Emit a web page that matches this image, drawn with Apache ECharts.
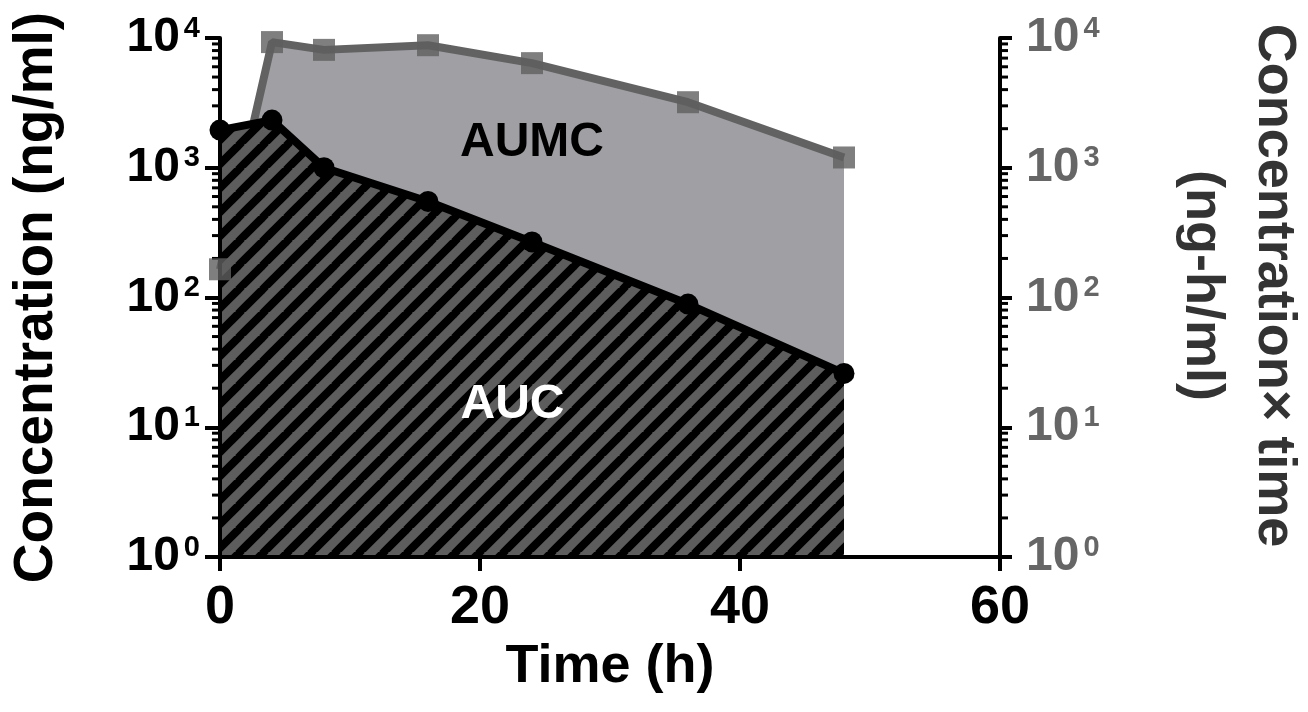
<!DOCTYPE html>
<html>
<head>
<meta charset="utf-8">
<script src="https://cdn.jsdelivr.net/npm/echarts@6/dist/echarts.min.js"></script>
<style>
html,body{margin:0;padding:0;background:#fff;}
#chart{width:1308px;height:712px;}
</style>
</head>
<body>
<div id="chart"></div>
<script>
// ---- data ----
const timePoints = [0, 4, 8, 16, 24, 36, 48];
const aucValues = [1950, 2330, 1000, 550, 268, 89, 26];      // concentration (ng/ml)
const aumcValues = [165, 9300, 8100, 8800, 6400, 3200, 1200]; // concentration x time
const xTicks = [0, 20, 40, 60];
const yMin = 1, yMax = 10000;
const minorMultipliers = [2, 3, 4, 5, 6, 7, 8, 9];
const decades = [1, 10, 100, 1000];
const annotations = [
  { text: 'AUMC', x: 24, y: 1550, color: '#000' },
  { text: 'AUC', x: 22.5, y: 14.8, color: '#fff' }
];

const FONT = '"Liberation Sans", Arial, Helvetica, sans-serif';

// hatch pattern
const tile = document.createElement('canvas');
const T = 24;
tile.width = T; tile.height = T;
const ctx = tile.getContext('2d');
ctx.fillStyle = '#5d5d5d';
ctx.fillRect(0, 0, T, T);
ctx.strokeStyle = '#000';
ctx.lineWidth = 8;
for (let c = -T; c <= T; c += T) {
  ctx.beginPath();
  ctx.moveTo(c - 2, T + 2);
  ctx.lineTo(c + T + 2, -2);
  ctx.stroke();
}

const minorTickData = [];
decades.forEach(d => minorMultipliers.forEach(m => minorTickData.push([0, d * m])));

const aucData = timePoints.map((t, i) => [t, aucValues[i]]);
const aumcData = timePoints.map((t, i) => [t, aumcValues[i]]);

function logLabel(v) {
  const e = Math.round(Math.log10(v));
  return '{b|10}{s|' + e + '}';
}
function richFor(color) {
  return {
    b: { fontSize: 48, fontWeight: 'bold', fontFamily: FONT, color: color, lineHeight: 48 },
    s: { fontSize: 29, fontWeight: 'bold', fontFamily: FONT, color: color, verticalAlign: 'top', padding: [0, 0, 0, 4], lineHeight: 48 }
  };
}

const chart = echarts.init(document.getElementById('chart'), null, { renderer: 'canvas' });

const option = {
  backgroundColor: '#fff',
  animation: false,
  grid: { left: 220, right: 308, top: 38, bottom: 155, containLabel: false, outerBoundsMode: 'none' },
  xAxis: {
    type: 'value', min: 0, max: 60, interval: 20,
    z: 4,
    axisLine: { show: true, lineStyle: { color: '#000', width: 4 } },
    axisTick: { show: true, length: 14, lineStyle: { color: '#000', width: 4 } },
    axisLabel: { fontSize: 54, fontWeight: 'bold', fontFamily: FONT, color: '#000', margin: 24 },
    splitLine: { show: false },
    name: 'Time (h)', nameLocation: 'middle', nameGap: 80,
    nameTextStyle: { fontSize: 54, fontWeight: 'bold', fontFamily: FONT, color: '#000' }
  },
  yAxis: [
    {
      type: 'log', logBase: 10, min: yMin, max: yMax,
      position: 'left', z: 4,
      axisLine: { show: true, lineStyle: { color: '#000', width: 4 } },
      axisTick: { show: true, length: 15, lineStyle: { color: '#000', width: 4 } },
      axisLabel: { formatter: logLabel, rich: richFor('#000'), margin: 20 },
      splitLine: { show: false },
      name: 'Concentration (ng/ml)', nameLocation: 'middle', nameGap: 156, nameRotate: 90,
      nameTextStyle: { fontSize: 55, fontWeight: 'bold', fontFamily: FONT, color: '#000' }
    },
    {
      type: 'log', logBase: 10, min: yMin, max: yMax,
      position: 'right', z: 4,
      axisLine: { show: true, lineStyle: { color: '#000', width: 4 } },
      axisTick: { show: true, length: 12, lineStyle: { color: '#000', width: 4 } },
      axisLabel: { formatter: logLabel, rich: richFor('#666'), margin: 26 },
      splitLine: { show: false },
      name: 'Concentration× time\n(ng-h/ml)', nameLocation: 'middle', nameGap: 166, nameRotate: -90,
      nameTextStyle: { fontSize: 54, fontWeight: 'bold', fontFamily: FONT, color: '#333', lineHeight: 72, align: 'center', padding: [0, 24, 0, 0] }
    }
  ],
  series: [
    {
      name: 'AUMC', type: 'line', data: aumcData, yAxisIndex: 1, z: 2,
      symbol: 'none',
      lineStyle: { color: '#626262', width: 8 },
      areaStyle: { color: '#a09fa4', opacity: 1, origin: 'start' }
    },
    {
      name: 'AUC', type: 'line', data: aucData, yAxisIndex: 0, z: 3,
      symbol: 'circle', symbolSize: 21,
      itemStyle: { color: '#000' },
      lineStyle: { color: '#000', width: 8 },
      areaStyle: { color: { image: tile, repeat: 'repeat' }, opacity: 1, origin: 'start' },
      markPoint: {
        symbol: 'circle', symbolSize: 0,
        data: annotations.map(a => ({
          coord: [a.x, a.y], value: a.text,
          label: { show: true, position: 'inside', formatter: a.text, fontSize: 48, fontWeight: 'bold', fontFamily: FONT, color: a.color }
        }))
      }
    },
    {
      name: 'AUMC points', type: 'scatter', data: aumcData, yAxisIndex: 1, z: 10,
      symbol: 'rect', symbolSize: 22,
      itemStyle: { color: '#5f5f5f' }
    },
    {
      name: 'minor ticks', type: 'custom', data: minorTickData, yAxisIndex: 0, z: 5,
      clip: false, silent: true,
      renderItem: function (params, api) {
        const v = api.value(1);
        const pl = api.coord([0, v]);
        const pr = api.coord([60, v]);
        return {
          type: 'group',
          children: [
            { type: 'line', shape: { x1: pl[0] - 8, y1: pl[1], x2: pl[0], y2: pl[1] }, style: { stroke: '#000', lineWidth: 3 } },
            { type: 'line', shape: { x1: pr[0], y1: pr[1], x2: pr[0] + 8, y2: pr[1] }, style: { stroke: '#000', lineWidth: 3 } }
          ]
        };
      }
    }
  ]
};
chart.setOption(option);
</script>
</body>
</html>
